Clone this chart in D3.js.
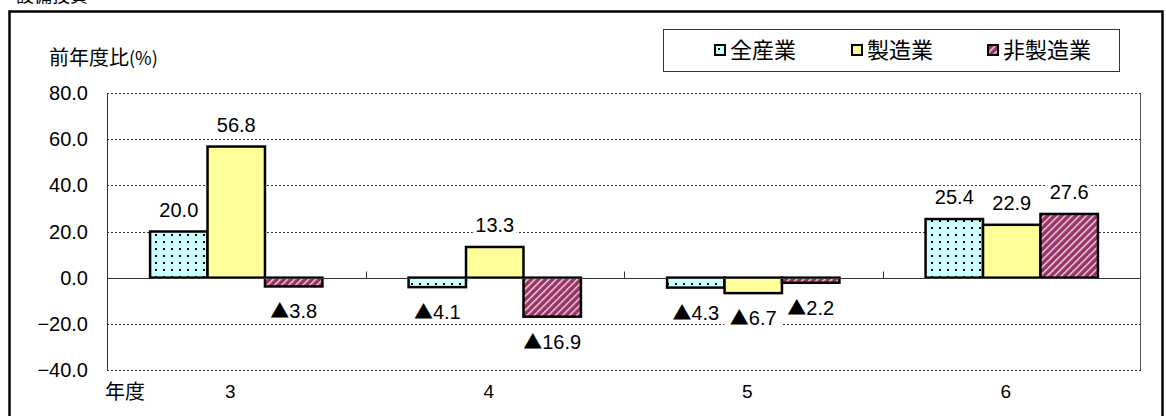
<!DOCTYPE html>
<html>
<head>
<meta charset="utf-8">
<script src="https://cdn.jsdelivr.net/npm/d3@7"></script>
<style>
  body { margin: 0; background: #fff; }
  svg { display: block; }
  .num { font-family: "Liberation Sans", Arial, sans-serif; }
  .jp { font-family: "Noto Sans CJK JP", sans-serif; }
</style>
</head>
<body>
<div id="chart"></div>
<script>
// data
const years = ['3', '4', '5', '6'];
const seriesNames = ['全産業', '製造業', '非製造業'];
const allIndustry = [20.0, -4.1, -4.3, 25.4];
const manufacturing = [56.8, 13.3, -6.7, 22.9];
const nonManufacturing = [-3.8, -16.9, -2.2, 27.6];
const yTicks = [-40, -20, 0, 20, 40, 60, 80];

const seriesValues = [allIndustry, manufacturing, nonManufacturing];
const rows = [];
years.forEach((yr, i) => {
    seriesNames.forEach((s, j) => rows.push({year: yr, series: s, value: seriesValues[j][i]}));
});

const width = 1166, height = 416;
const plot = {left: 107, right: 1141, top: 93, bottom: 370};

const svg = d3.select('#chart').append('svg')
    .attr('width', width)
    .attr('height', height);

// patterns
const defs = svg.append('defs');
const dots = defs.append('pattern')
    .attr('id', 'dots').attr('patternUnits', 'userSpaceOnUse')
    .attr('width', 8).attr('height', 7);
dots.append('rect').attr('width', 8).attr('height', 7).attr('fill', '#ccffff');
dots.append('rect').attr('x', 3).attr('y', 3).attr('width', 2).attr('height', 2).attr('fill', '#000');

const stripes = defs.append('pattern')
    .attr('id', 'stripes').attr('patternUnits', 'userSpaceOnUse')
    .attr('width', 5).attr('height', 5)
    .attr('patternTransform', 'rotate(45)');
stripes.append('rect').attr('width', 5).attr('height', 5).attr('fill', '#993366');
stripes.append('rect').attr('x', 0).attr('width', 1.4).attr('height', 5).attr('fill', '#f2d9e6');

const fills = {'全産業': 'url(#dots)', '製造業': '#ffff99', '非製造業': 'url(#stripes)'};

// scales
const x = d3.scaleBand().domain(years).range([plot.left, plot.right]).padding(0);
const x1 = d3.scaleBand().domain(seriesNames).range([0, x.bandwidth()])
    .paddingInner(0).paddingOuter(0.75);
const y = d3.scaleLinear().domain([-40, 80]).range([plot.bottom, plot.top]);

// outer frame (cut off by the picture edges)
svg.append('text')
    .attr('class', 'jp')
    .attr('x', 16).attr('y', 2)
    .attr('font-size', 18)
    .text('設備投資');
svg.append('rect')
    .attr('x', 9.5).attr('y', 11.5)
    .attr('width', 1153).attr('height', 420)
    .attr('fill', 'none').attr('stroke', '#000').attr('stroke-width', 2.5);

// gridlines
svg.append('g')
    .selectAll('line')
    .data(yTicks.filter(t => t !== 0))
    .join('line')
    .attr('x1', plot.left).attr('x2', plot.right)
    .attr('y1', d => Math.round(y(d)) + 0.5).attr('y2', d => Math.round(y(d)) + 0.5)
    .attr('stroke', '#333').attr('stroke-width', 1)
    .attr('stroke-dasharray', '2,2');

// left / right plot edges
svg.append('line')
    .attr('x1', plot.left + 0.5).attr('x2', plot.left + 0.5)
    .attr('y1', plot.top).attr('y2', plot.bottom)
    .attr('stroke', '#333');
svg.append('line')
    .attr('x1', plot.right - 0.5).attr('x2', plot.right - 0.5)
    .attr('y1', plot.top).attr('y2', plot.bottom)
    .attr('stroke', '#555');

// y axis labels
svg.append('g')
    .selectAll('text')
    .data(yTicks)
    .join('text')
    .attr('class', 'num')
    .attr('x', 88)
    .attr('y', d => y(d) + 7)
    .attr('text-anchor', 'end')
    .attr('font-size', 20)
    .text(d => (d < 0 ? '\u2212' + Math.abs(d).toFixed(1) : d.toFixed(1)));

// y title
const yt = svg.append('text')
    .attr('class', 'jp')
    .attr('x', 49).attr('y', 65)
    .attr('font-size', 20);
yt.append('tspan').text('前年度比');
yt.append('tspan').attr('font-size', 18).text('(%)');

// bars
svg.append('g')
    .selectAll('rect')
    .data(rows)
    .join('rect')
    .attr('x', d => x(d.year) + x1(d.series))
    .attr('y', d => y(Math.max(0, d.value)))
    .attr('width', x1.bandwidth())
    .attr('height', d => Math.abs(y(d.value) - y(0)))
    .attr('fill', d => fills[d.series])
    .attr('stroke', '#000')
    .attr('stroke-width', 2.5);

// zero line with small ticks between categories
const y0 = Math.round(y(0)) + 0.5;
svg.append('line')
    .attr('x1', plot.left).attr('x2', plot.right)
    .attr('y1', y0).attr('y2', y0)
    .attr('stroke', '#333');
svg.append('g')
    .selectAll('line')
    .data(years.slice(1))
    .join('line')
    .attr('x1', d => Math.round(x(d)) + 0.5).attr('x2', d => Math.round(x(d)) + 0.5)
    .attr('y1', y0 - 7).attr('y2', y0)
    .attr('stroke', '#333');

// value labels (negatives shown with ▲)
const labels = svg.append('g')
    .selectAll('g')
    .data(rows)
    .join('g')
    .attr('transform', d => {
        const cx = x(d.year) + x1(d.series) + x1.bandwidth() / 2;
        const cy = d.value >= 0 ? y(d.value) - 15 : y(d.value) + 32;
        return `translate(${cx},${cy})`;
    });
labels.append('rect')
    .attr('x', d => -(d.value < 0 ? 58 : 44) / 2)
    .attr('y', -18)
    .attr('width', d => d.value < 0 ? 58 : 44)
    .attr('height', 22)
    .attr('fill', '#fff');
const lt = labels.append('text')
    .attr('class', 'num')
    .attr('text-anchor', 'middle')
    .attr('font-size', 20);
lt.filter(d => d.value < 0).append('tspan')
    .attr('class', 'jp')
    .attr('font-size', 19)
    .text('▲');
lt.append('tspan').text(d => Math.abs(d.value).toFixed(1));

// x labels
svg.append('text')
    .attr('class', 'jp')
    .attr('x', 105).attr('y', 399)
    .attr('font-size', 20)
    .text('年度');
svg.append('g')
    .selectAll('text')
    .data(years)
    .join('text')
    .attr('class', 'num')
    .attr('x', d => x(d) + x.bandwidth() / 2 - 6)
    .attr('y', 398)
    .attr('text-anchor', 'middle')
    .attr('font-size', 19)
    .text(d => d);

// legend
svg.append('rect')
    .attr('x', 663.5).attr('y', 29.5)
    .attr('width', 456).attr('height', 42)
    .attr('fill', '#fff').attr('stroke', '#333');
const legendX = [715, 852, 988];
const leg = svg.append('g')
    .selectAll('g')
    .data(seriesNames)
    .join('g')
    .attr('transform', (d, i) => `translate(${legendX[i]},45)`);
leg.append('rect')
    .attr('width', 10).attr('height', 10)
    .attr('fill', d => fills[d])
    .attr('stroke', '#000').attr('stroke-width', 2);
leg.append('text')
    .attr('class', 'jp')
    .attr('x', 15).attr('y', 13)
    .attr('font-size', 22)
    .text(d => d);
</script>
</body>
</html>
